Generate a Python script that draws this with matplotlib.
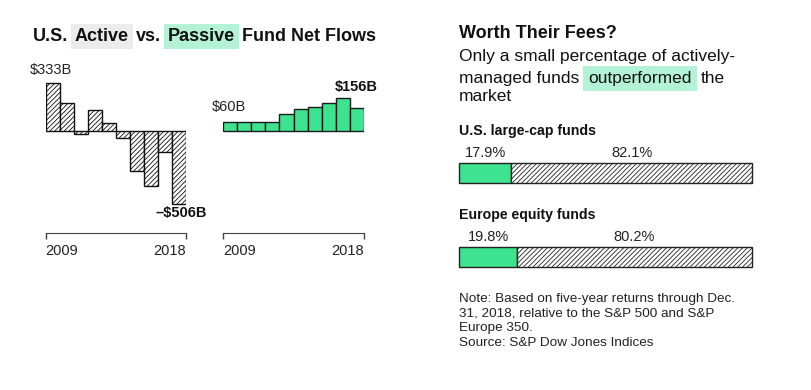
import matplotlib
matplotlib.use('Agg')
import matplotlib.pyplot as plt

plt.rcParams['font.family'] = ['Liberation Sans', 'DejaVu Sans']
plt.rcParams['hatch.linewidth'] = 0.6

years = list(range(2009, 2019))
active = [333, 190, -23, 143, 51, -49, -280, -385, -148, -506]
passive = [60, 57, 57, 60, 115, 150, 165, 195, 225, 156]

groups = ['U.S. large-cap funds', 'Europe equity funds']
outperformed = [17.9, 19.8]
underperformed = [82.1, 80.2]

note_lines = ['Note: Based on five-year returns through Dec.',
              '31, 2018, relative to the S&P 500 and S&P',
              'Europe 350.',
              'Source: S&P Dow Jones Indices']

GREEN = '#3de38f'
MINT = '#b3f2d6'
GREYHL = '#ececec'
HATCH = '///////'
W, H = 812, 390

fig = plt.figure(figsize=(W / 100, H / 100), dpi=100)


def box(x0, y0, x1, y1):
    # pixel box (top-left origin) -> figure fraction
    return [x0 / W, 1 - y1 / H, (x1 - x0) / W, (y1 - y0) / H]


# overlay for free text, in pixel coords
ov = fig.add_axes([0, 0, 1, 1])
ov.set_xlim(0, W)
ov.set_ylim(H, 0)
ov.axis('off')


def chain(x, y, pieces, gap=5, pad=0.25, **kw):
    t = ov.text(x, y, pieces[0][0], va='bottom', ha='left', **kw)
    if pieces[0][1]:
        t.set_bbox(dict(boxstyle=f'square,pad={pad}', fc=pieces[0][1], ec='none'))
    for s, bg in pieces[1:]:
        t = ov.annotate(s, xy=(1, 0), xycoords=t, xytext=(gap, 0),
                        textcoords='offset points', va='bottom', ha='left', **kw)
        if bg:
            t.set_bbox(dict(boxstyle=f'square,pad={pad}', fc=bg, ec='none'))
    return t


# ---- left: fund flows
ylo, yhi = -560, 420
flow_axes = []
for vals, x0, style in [(active, 45.7, 'active'), (passive, 223.3, 'passive')]:
    ax = fig.add_axes(box(x0, 70.2, x0 + 140.5, 211.3))
    if style == 'active':
        ax.bar(years, vals, width=1, color='white', edgecolor='#111', lw=1, hatch=HATCH)
    else:
        ax.bar(years, vals, width=1, color=GREEN, edgecolor='#1a1a1a', lw=1)
    ax.set_xlim(years[0] - 0.5, years[-1] + 0.5)
    ax.set_ylim(ylo, yhi)
    for s in ['top', 'left', 'right']:
        ax.spines[s].set_visible(False)
    ax.spines['bottom'].set_position(('outward', 15.6))
    ax.spines['bottom'].set_color('#444')
    ax.set_yticks([])
    ax.set_xticks([years[0] - 0.5, years[-1] + 0.5], [str(years[0]), str(years[-1])])
    ax.tick_params(axis='x', length=4, width=1, color='#444', pad=4, labelsize=10.5,
                   labelcolor='#222')
    labs = ax.get_xticklabels()
    labs[0].set_ha('left')
    labs[1].set_ha('right')
    ax.patch.set_visible(False)
    flow_axes.append(ax)

ax_a, ax_p = flow_axes
ax_a.annotate(f'${active[0]}B', xy=(years[0] - 0.5, active[0]), xytext=(-11.3, 9),
              textcoords='offset points', ha='left', va='center', fontsize=10.5, color='#222')
ax_a.annotate(f'\u2013${-active[-1]}B', xy=(years[-1] + 0.5, active[-1]), xytext=(15, -7),
              textcoords='offset points', ha='right', va='center', fontsize=10.5,
              fontweight='bold', color='#111')
ax_p.annotate(f'${passive[0]}B', xy=(years[0] - 0.5, passive[0]), xytext=(-8, 11),
              textcoords='offset points', ha='left', va='center', fontsize=10.5, color='#222')
ax_p.annotate(f'${passive[-1]}B', xy=(years[-1] + 0.5, passive[-1]), xytext=(10, 15),
              textcoords='offset points', ha='right', va='center', fontsize=10.5,
              fontweight='bold', color='#111')

chain(32.7, 45, [('U.S.', None), ('Active', GREYHL), ('vs.', None), ('Passive', MINT),
                 ('Fund Net Flows', None)],
      gap=5, pad=0.2, fontsize=13, fontweight='bold', color='#111')

# ---- right: worth their fees
ov.text(459, 33.3, 'Worth Their Fees?', fontsize=13, fontweight='bold', va='center',
        ha='left', color='#111')
ov.text(459, 56.7, 'Only a small percentage of actively-', fontsize=12.5, va='center',
        ha='left', color='#111')
chain(459, 86, [('managed funds', None), ('outperformed', MINT), ('the', None)],
      gap=6.5, pad=0.3, fontsize=12.5, color='#111')
ov.text(459, 96.5, 'market', fontsize=12.5, va='center', ha='left', color='#111')

for i, g in enumerate(groups):
    top = 162.7 + 84 * i
    ax = fig.add_axes(box(459, top, 752, top + 20.5))
    ax.barh(0, outperformed[i], height=1, color=GREEN, edgecolor='#222', lw=1, clip_on=False)
    ax.barh(0, underperformed[i], left=outperformed[i], height=1, color='white',
            edgecolor='#222', lw=1, hatch=HATCH, clip_on=False)
    ax.set_xlim(0, 100)
    ax.set_ylim(-0.5, 0.5)
    ax.axis('off')
    tr = ax.get_xaxis_transform()
    ax.text(outperformed[i] / 2, 1.49, f'{outperformed[i]}%', transform=tr, ha='center',
            va='center', fontsize=10.5, color='#222')
    ax.text(outperformed[i] + underperformed[i] / 2, 1.49, f'{underperformed[i]}%',
            transform=tr, ha='center', va='center', fontsize=10.5, color='#222')
    ov.text(459, top - 32, g, fontsize=10.2, fontweight='bold', va='center', ha='left',
            color='#111')

for j, line in enumerate(note_lines):
    ov.text(459, 299.3 + 14.4 * j, line, fontsize=9.7, va='center', ha='left', color='#222')

fig.savefig('out.png', dpi=100)
